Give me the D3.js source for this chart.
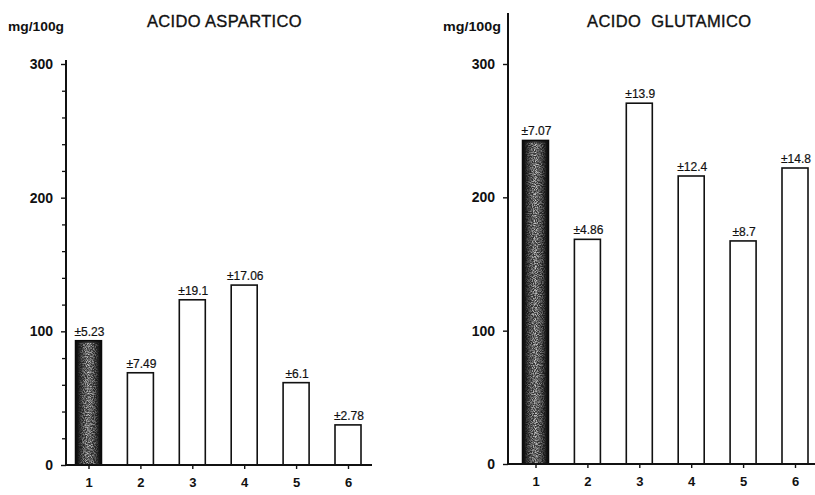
<!DOCTYPE html>
<html>
<head>
<meta charset="utf-8">
<script src="https://cdn.jsdelivr.net/npm/d3@7"></script>
<style>
  html, body { margin: 0; padding: 0; background: #fff; }
  svg { display: block; }
  text { font-family: "Liberation Sans", Arial, sans-serif; fill: #111; }
</style>
</head>
<body>
<svg id="chart" width="815" height="495"></svg>
<script>
// Amino acid content (mg/100g) for six samples; sample 1 is the reference (shaded bar)
const categories = ["1", "2", "3", "4", "5", "6"];
const asparticValues = [93, 69, 123.6, 134.6, 61.6, 30];
const asparticErrors = ["±5.23", "±7.49", "±19.1", "±17.06", "±6.1", "±2.78"];
const glutamicValues = [242.7, 168.5, 270.6, 216, 167.3, 222];
const glutamicErrors = ["±7.07", "±4.86", "±13.9", "±12.4", "±8.7", "±14.8"];
const yMajorTicks = [0, 100, 200, 300];

const svg = d3.select("#chart");
const defs = svg.append("defs");

// Dark-to-mid horizontal shading for the reference bar
const grad = defs.append("linearGradient").attr("id", "refShade")
  .attr("x1", "0").attr("x2", "1").attr("y1", "0").attr("y2", "0");
grad.append("stop").attr("offset", "0%").attr("stop-color", "#0c0c0c");
grad.append("stop").attr("offset", "18%").attr("stop-color", "#1c1c1c");
grad.append("stop").attr("offset", "50%").attr("stop-color", "#3a3a3a");
grad.append("stop").attr("offset", "82%").attr("stop-color", "#1c1c1c");
grad.append("stop").attr("offset", "100%").attr("stop-color", "#0c0c0c");

// Grain speckle for the reference bar
const grain = defs.append("filter").attr("id", "grain")
  .attr("x", 0).attr("y", 0).attr("width", 1).attr("height", 1);
grain.append("feTurbulence").attr("type", "fractalNoise")
  .attr("baseFrequency", 0.9).attr("numOctaves", 2).attr("seed", 7).attr("result", "noise");
grain.append("feColorMatrix").attr("in", "noise").attr("type", "matrix")
  .attr("values", "0 0 0 0 0.85  0 0 0 0 0.85  0 0 0 0 0.85  -3 0 0 0 1.9")
  .attr("result", "speck");
grain.append("feComposite").attr("in", "speck").attr("in2", "SourceGraphic").attr("operator", "in");

// Fade the speckle toward the bar edges
const mgrad = defs.append("linearGradient").attr("id", "speckFade")
  .attr("x1", "0").attr("x2", "1").attr("y1", "0").attr("y2", "0");
mgrad.append("stop").attr("offset", "0%").attr("stop-color", "#000");
mgrad.append("stop").attr("offset", "22%").attr("stop-color", "#888");
mgrad.append("stop").attr("offset", "50%").attr("stop-color", "#fff");
mgrad.append("stop").attr("offset", "78%").attr("stop-color", "#888");
mgrad.append("stop").attr("offset", "100%").attr("stop-color", "#000");
defs.append("mask").attr("id", "speckMask")
  .attr("maskContentUnits", "objectBoundingBox")
  .append("rect").attr("x", 0).attr("y", 0).attr("width", 1).attr("height", 1)
  .attr("fill", "url(#speckFade)");

function panel(cfg) {
  const g = svg.append("g");
  const y = d3.scaleLinear().domain([0, 300]).range([cfg.y0, 64]);
  const x = d3.scalePoint().domain(categories).range(cfg.xRange);
  const barW = 26;

  // Title and unit
  g.append("text").attr("x", cfg.titleX).attr("y", 27)
    .attr("font-size", 16.5).attr("letter-spacing", cfg.titleSpacing)
    .attr("stroke", "#111").attr("stroke-width", 0.35)
    .attr("xml:space", "preserve")
    .attr("textLength", cfg.titleWidth).attr("lengthAdjust", "spacing")
    .text(cfg.title);
  g.append("text").attr("x", cfg.unitX).attr("y", 31)
    .attr("font-size", 12).attr("font-weight", "bold")
    .attr("textLength", cfg.unitWidth).attr("lengthAdjust", "spacingAndGlyphs")
    .text("mg/100g");

  // Minor y ticks (every 20)
  if (cfg.minor) {
    const minorAxis = d3.axisLeft(y)
      .tickValues(d3.range(0, 301, 20).filter(v => v % 100 !== 0))
      .tickSize(4).tickFormat("");
    g.append("g").attr("transform", `translate(${cfg.axisX},0)`).call(minorAxis)
      .call(a => a.select(".domain").remove())
      .selectAll("line").attr("stroke", "#111").attr("stroke-width", 1.3);
  }

  // Major y ticks with labels
  const yAxis = d3.axisLeft(y).tickValues(yMajorTicks).tickSize(5).tickPadding(8)
    .tickFormat(d3.format("d"));
  const ya = g.append("g").attr("transform", `translate(${cfg.axisX},0)`).call(yAxis);
  ya.select(".domain").remove();
  ya.selectAll("line").attr("stroke", "#111").attr("stroke-width", 1.4);
  ya.selectAll("text").attr("font-size", 14).attr("font-weight", "bold")
    .attr("font-family", "'Liberation Sans', Arial, sans-serif").attr("fill", "#111");

  // Y axis line
  g.append("line").attr("x1", cfg.axisX).attr("x2", cfg.axisX)
    .attr("y1", cfg.axisTop).attr("y2", cfg.y0)
    .attr("stroke", "#111").attr("stroke-width", 2);

  // Bars
  const bars = g.append("g");
  cfg.values.forEach((v, i) => {
    const cx = x(categories[i]);
    const bx = cx - barW / 2;
    const top = y(v);
    const h = y(0) - top;
    if (i === 0) {
      bars.append("rect").attr("x", bx).attr("y", top).attr("width", barW).attr("height", h)
        .attr("fill", "url(#refShade)").attr("stroke", "#0a0a0a").attr("stroke-width", 1.5);
      bars.append("rect").attr("x", bx + 2).attr("y", top + 2).attr("width", barW - 4).attr("height", h - 3)
        .attr("fill", "#fff").attr("filter", "url(#grain)").attr("mask", "url(#speckMask)")
        .attr("opacity", 0.8);
    } else {
      bars.append("rect").attr("x", bx).attr("y", top).attr("width", barW).attr("height", h)
        .attr("fill", "#fff").attr("stroke", "#111").attr("stroke-width", 1.6);
    }
    g.append("text").attr("x", cx + 1).attr("y", top - 5)
      .attr("text-anchor", "middle").attr("font-size", 12)
      .attr("stroke", "#111").attr("stroke-width", 0.2)
      .text(cfg.errors[i]);
  });

  // X axis with downward ticks
  const xAxis = d3.axisBottom(x).tickSize(4).tickPadding(9);
  const xa = g.append("g").attr("transform", `translate(0,${cfg.y0})`).call(xAxis);
  xa.select(".domain").remove();
  xa.selectAll("line").attr("stroke", "#111").attr("stroke-width", 1.4);
  xa.selectAll("text").attr("font-size", 13).attr("font-weight", "bold")
    .attr("font-family", "'Liberation Sans', Arial, sans-serif").attr("fill", "#111");
  g.append("line").attr("x1", cfg.axisX - 1).attr("x2", cfg.xEnd)
    .attr("y1", cfg.y0).attr("y2", cfg.y0)
    .attr("stroke", "#111").attr("stroke-width", 2);
}

panel({
  title: "ACIDO ASPARTICO", titleX: 147, titleSpacing: 0.4, titleWidth: 155,
  unitX: 8, unitWidth: 56,
  axisX: 66, axisTop: 60, y0: 465, xRange: [88.5, 348], xEnd: 372,
  values: asparticValues, errors: asparticErrors, minor: true
});
panel({
  title: "ACIDO  GLUTAMICO", titleX: 587, titleSpacing: 0.8, titleWidth: 165,
  unitX: 443, unitWidth: 58,
  axisX: 508, axisTop: 13, y0: 464, xRange: [535.5, 795], xEnd: 815,
  values: glutamicValues, errors: glutamicErrors, minor: false
});
</script>
</body>
</html>
